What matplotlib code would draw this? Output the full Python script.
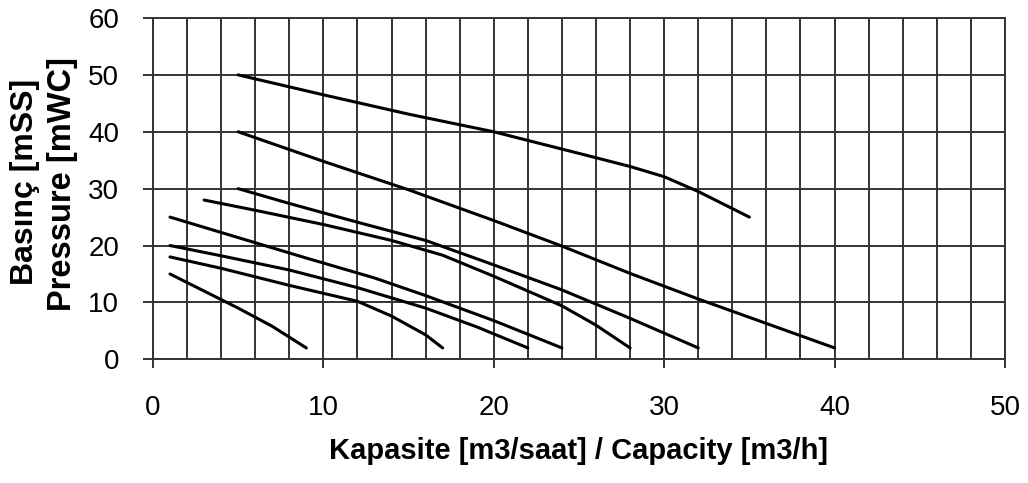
import numpy as np
import matplotlib
matplotlib.use("Agg")
import matplotlib.pyplot as plt
from matplotlib.ticker import MultipleLocator

plt.rcParams['font.family'] = ['Liberation Sans', 'DejaVu Sans']

# -------- PUMP CURVES (capacity m3/h, head mWC) --------
q_50 = [5, 10, 15, 20, 25, 28, 30, 32, 35]
h_50 = [50, 46.5, 43.1, 40, 36.2, 33.9, 32.1, 29.5, 25]

q_40 = [5, 10, 15, 20, 24, 28, 32, 36, 40]
h_40 = [40, 34.8, 29.8, 24.4, 19.9, 15.1, 10.6, 6.3, 2]

q_30 = [5, 8, 12, 16, 20, 24, 28, 32]
h_30 = [30, 27.4, 24.1, 20.9, 16.6, 12.2, 7.2, 2]

q_28 = [3, 6, 10, 14, 17, 20, 24, 26, 28]
h_28 = [28, 26.2, 23.7, 20.9, 18.3, 14.6, 9.4, 6.0, 2]

q_25 = [1, 5, 9, 13, 16, 20, 24]
h_25 = [25, 21.4, 17.8, 14.3, 11.2, 6.8, 2]

q_20 = [1, 4, 8, 12, 16, 19, 22]
h_20 = [20, 18.2, 15.7, 12.6, 9.0, 5.7, 2]

q_18 = [1, 4, 8, 12, 14, 16, 17]
h_18 = [18, 16, 13, 10.2, 7.6, 4.3, 2]

q_15 = [1, 3, 5, 7, 9]
h_15 = [15, 12, 9, 5.8, 2]

curves = [(q_50, h_50), (q_40, h_40), (q_30, h_30), (q_28, h_28),
          (q_25, h_25), (q_20, h_20), (q_18, h_18), (q_15, h_15)]

grid_col = '#333333'

fig = plt.figure(figsize=(10.28, 4.83), dpi=100, facecolor='w')
ax = fig.add_axes([0.1488, 0.2561, 0.8288, 0.7066])

for q, h in curves:
    ax.plot(q, h, color='black', lw=2.2, solid_capstyle='round',
            solid_joinstyle='round', zorder=3)

# ---- axes, ticks and grid
ax.set_xlim(0, 50)
ax.set_ylim(0, 60)
ax.xaxis.set_major_locator(MultipleLocator(10))
ax.xaxis.set_minor_locator(MultipleLocator(2))
ax.yaxis.set_major_locator(MultipleLocator(10))

ax.grid(which='major', axis='both', color=grid_col, lw=1.4)
ax.grid(which='minor', axis='x', color=grid_col, lw=1.4)
ax.set_axisbelow(True)

ax.tick_params(axis='x', which='major', direction='out', length=6.5, width=1.4,
               color=grid_col, pad=19, labelsize=20)
ax.tick_params(axis='x', which='minor', length=0)
ax.tick_params(axis='y', which='major', direction='out', length=7.2, width=1.4,
               color=grid_col, pad=17, labelsize=20)

for sp in ax.spines.values():
    sp.set_color(grid_col)
    sp.set_linewidth(1.4)

ax.set_xlabel('Kapasite [m3/saat] / Capacity [m3/h]', fontsize=21,
              fontweight='bold', labelpad=12)

# two-line axis title, Turkish above English
fig.text(25 / 1028, 1 - 182 / 483, 'Basınç [mSS]', rotation=90, ha='center',
         va='center', fontsize=23, fontweight='bold')
fig.text(63 / 1028, 1 - 184 / 483, 'Pressure [mWC]', rotation=90, ha='center',
         va='center', fontsize=23.5, fontweight='bold')

plt.savefig('out.png', dpi=100, facecolor='w')
plt.close()
